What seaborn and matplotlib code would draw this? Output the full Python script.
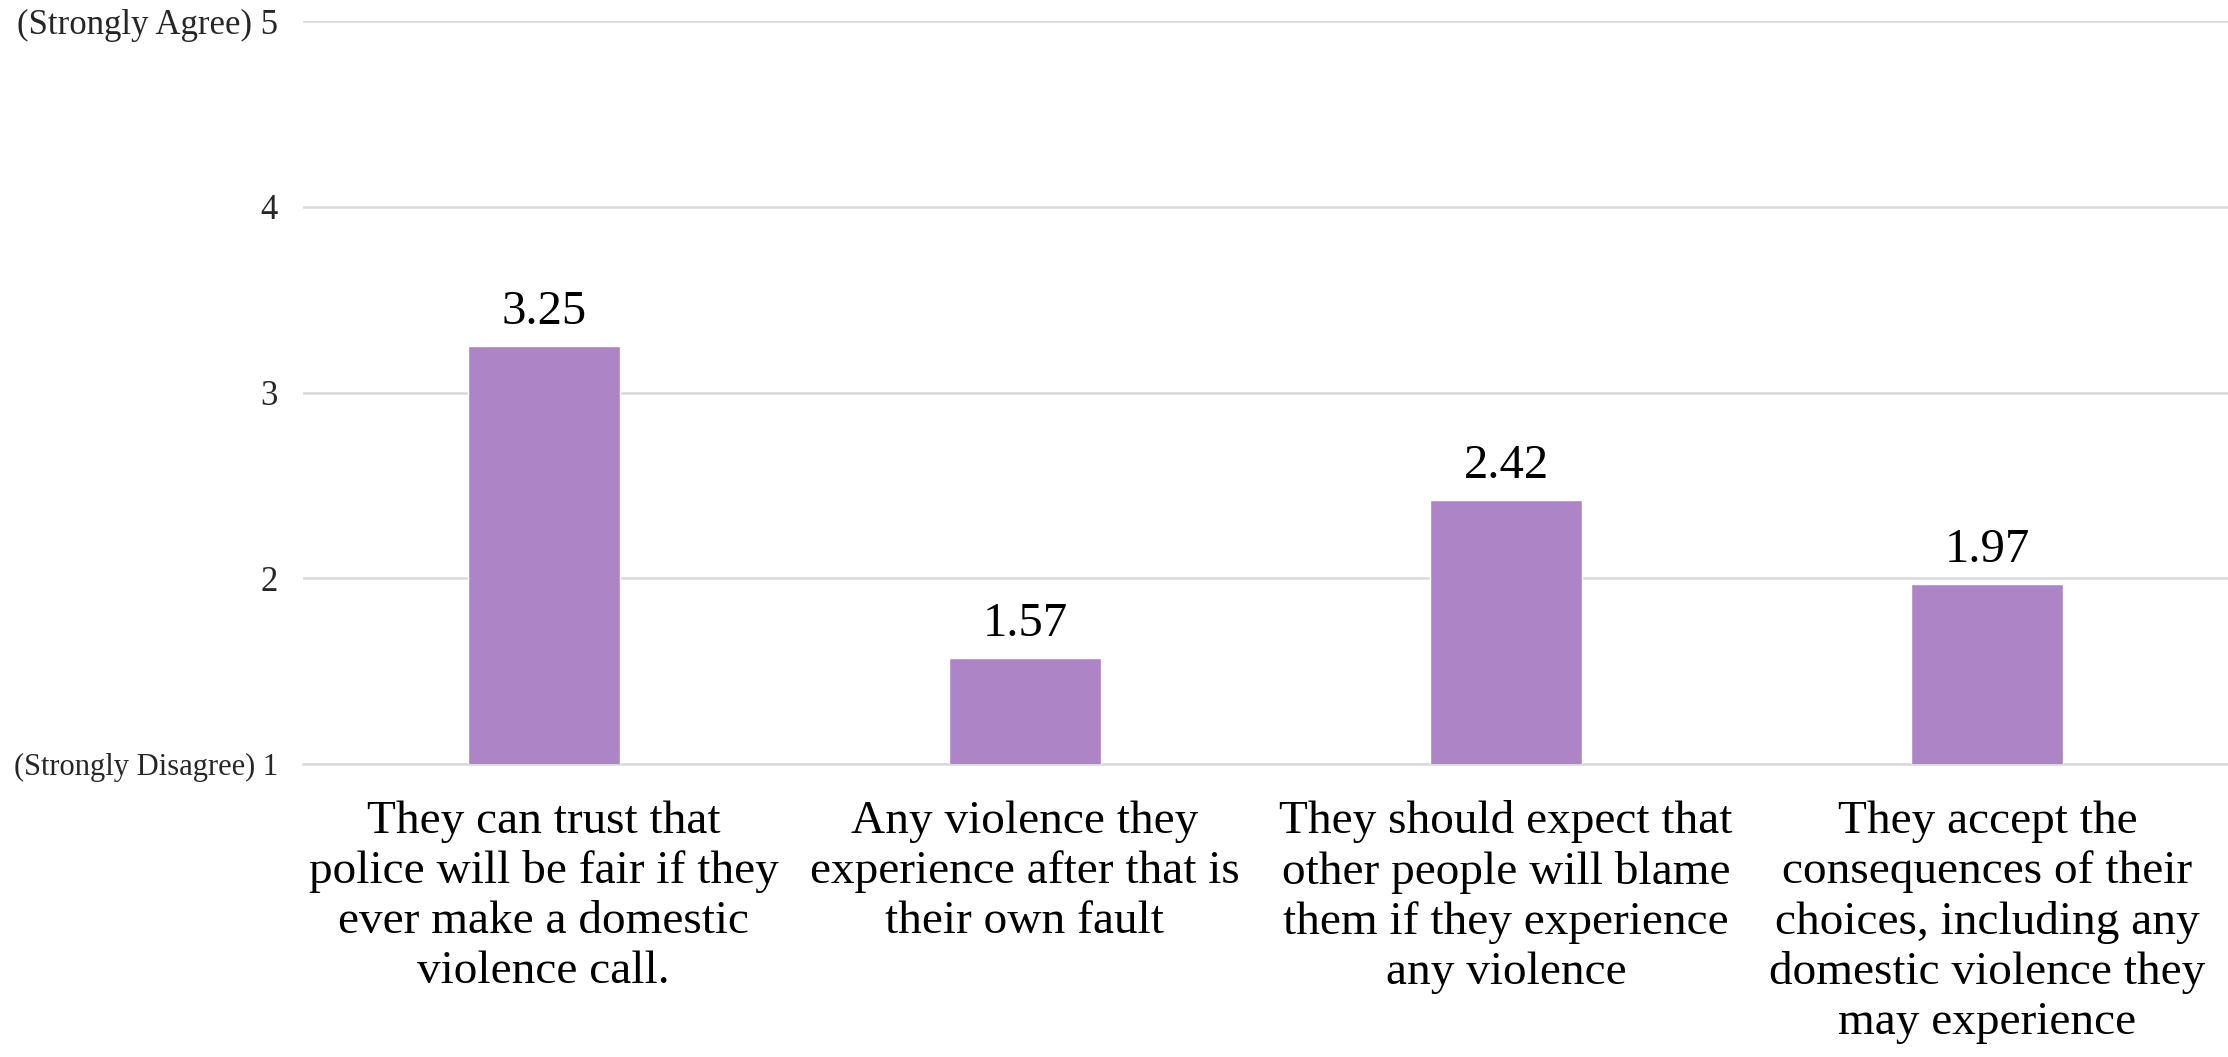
import matplotlib
matplotlib.use("Agg")
import matplotlib.pyplot as plt
import seaborn as sns
import pandas as pd

categories = [
    "They can trust that\npolice will be fair if they\never make a domestic\nviolence call.",
    "Any violence they\nexperience after that is\ntheir own fault",
    "They should expect that\nother people will blame\nthem if they experience\nany violence",
    "They accept the\nconsequences of their\nchoices, including any\ndomestic violence they\nmay experience",
]
values = [3.25, 1.57, 2.42, 1.97]
value_labels = ["3.25", "1.57", "2.42", "1.97"]
ytick_values = [1, 2, 3, 4, 5]
ytick_labels = ["(Strongly Disagree) 1", "2", "3", "4", "(Strongly Agree) 5"]

sns.set_theme(style="white")
plt.rcParams["font.family"] = ["Liberation Serif", "DejaVu Serif"]

df = pd.DataFrame({"category": categories, "value": values})

fig = plt.figure(figsize=(22.28, 10.57), dpi=100)
ax = fig.add_axes([0.136, 0.277, 0.864, 0.703])

sns.barplot(data=df, x="category", y="value", color="#AD84C6", saturation=1,
            width=0.316, ax=ax, zorder=3)

ax.set_ylim(1, 5)
ax.set_yticks(ytick_values)
ax.set_yticklabels(ytick_labels, fontsize=25, color="#262626")
ax.get_yticklabels()[0].set_fontsize(22)
ax.yaxis.grid(True, color="#D9D9D9", linewidth=1.8, zorder=0)
ax.set_axisbelow(True)
for s in ["top", "right", "left"]:
    ax.spines[s].set_visible(False)
ax.spines["bottom"].set_color("#D9D9D9")
ax.spines["bottom"].set_linewidth(1.8)
ax.tick_params(axis="y", length=0, pad=18)
ax.tick_params(axis="x", length=0, pad=26)
ax.set_xlabel("")
ax.set_ylabel("")
for lbl in ax.get_xticklabels():
    lbl.set_fontsize(34)
    lbl.set_linespacing(1.23)
    lbl.set_color("black")
    lbl.set_verticalalignment("top")
    lbl.set_multialignment("center")

ax.bar_label(ax.containers[0], labels=value_labels, padding=9, fontsize=35, color="black")

fig.savefig("out.png", dpi=100, facecolor="white")
